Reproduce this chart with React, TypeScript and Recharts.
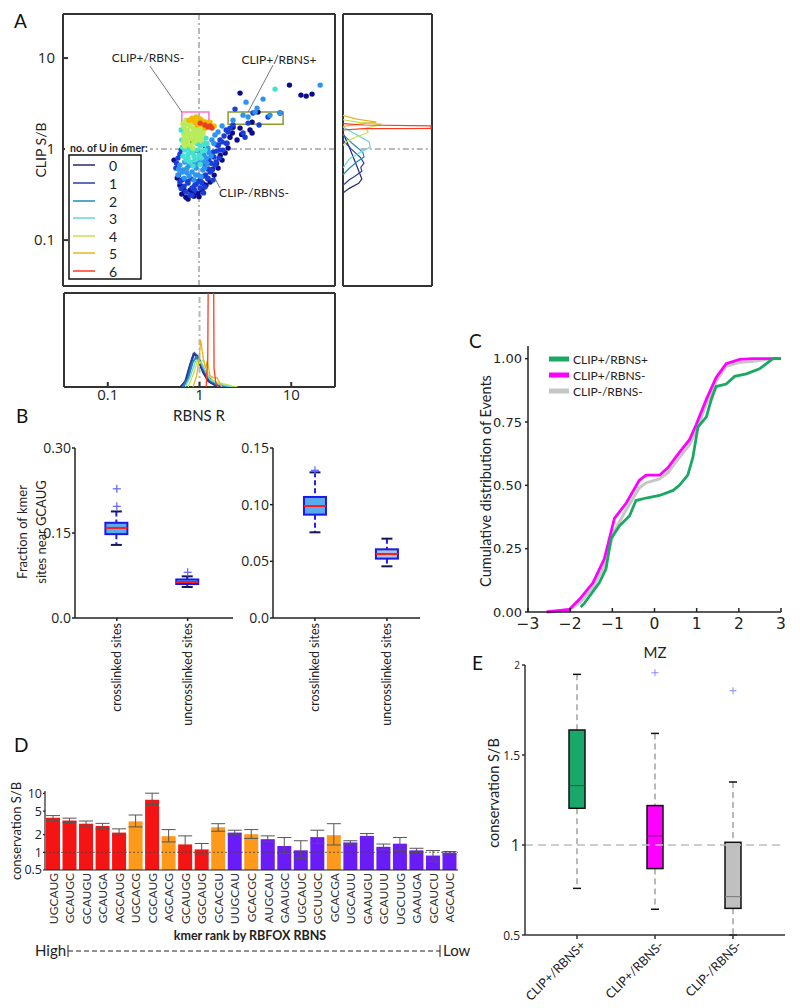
import React from 'react';
import {
  ScatterChart,
  Scatter,
  ComposedChart,
  LineChart,
  Line,
  BarChart,
  Bar,
  Cell,
  ErrorBar,
  XAxis,
  YAxis,
  ReferenceLine,
  ReferenceArea,
} from 'recharts';

const FONT = 'Lato, "Open Sans", sans-serif';
const TICK_FONT = '"Open Sans", sans-serif';
const MPL_FONT = '"DejaVu Sans", sans-serif';
const INK = '#222';

// ---------- Panel A: RBNS R vs CLIP S/B, coloured by number of U in the 6mer ----------
const uCounts = ['0', '1', '2', '3', '4', '5', '6'];
const uLineColors = ['#2a2a6e', '#2a3ea6', '#1f8ab8', '#66d9d4', '#c4e24e', '#e6b422', '#ff3a1e'];
const uDotColors = ['#0b0b8c', '#1a3ed8', '#2e95ee', '#46e0d2', '#b8ec5a', '#f5b800', '#e8401c'];

// [RBNS R, CLIP S/B]
const dotsU0: [number, number][] = [
  [9.6, 5.05], [12.8, 3.92], [14.6, 3.82], [16.9, 4.02], [2.79, 4.12], [4.37, 2.55], [7.6, 2.49],
  [3.77, 1.98], [3.58, 1.62], [2.79, 1.7], [3.77, 1.5], [2.34, 1.74], [2.17, 1.35], [2.59, 1.26],
  [2.3, 1.5], [2.9, 1.45], [0.65, 0.32], [0.72, 0.296], [0.8, 0.354], [0.88, 0.304], [0.975, 0.328],
  [1.08, 0.354], [1.19, 0.4], [1.32, 0.434], [1.46, 0.518], [1.61, 0.618], [1.78, 0.757], [1.92, 0.904],
  [2.07, 1.025], [0.58, 0.48], [0.535, 0.757], [0.76, 0.282], [0.69, 0.354], [0.62, 0.4], [0.85, 0.33],
  [1.0, 0.3], [1.1, 0.42], [1.25, 0.47], [1.4, 0.6], [1.55, 0.7], [1.7, 0.85],
];
const dotsU1: [number, number][] = [
  [1.16, 0.667], [1.28, 0.757], [1.42, 0.927], [1.57, 1.11], [1.69, 1.26], [1.87, 1.39], [2.07, 1.54],
  [1.32, 0.559], [1.49, 0.667], [1.65, 0.796], [1.82, 0.975], [1.97, 1.16], [0.62, 0.434], [0.69, 0.392],
  [0.76, 0.423], [0.84, 0.373], [0.93, 0.413], [1.03, 0.456], [1.13, 0.505], [1.25, 0.48], [1.38, 0.588],
  [1.53, 0.72], [0.72, 0.337], [0.8, 0.312], [0.9, 0.354], [1.03, 0.373], [0.59, 0.796], [0.56, 0.618],
  [0.64, 0.975], [2.17, 1.7], [2.34, 1.84], [1.97, 1.62], [1.69, 0.975], [1.42, 0.456], [1.16, 0.383],
  [0.6, 0.52], [0.66, 0.46], [0.75, 0.44], [0.82, 0.47], [0.9, 0.4], [0.97, 0.44], [1.07, 0.43],
  [1.18, 0.52], [1.26, 0.6], [1.35, 0.7], [1.45, 0.82], [1.55, 0.95], [1.62, 1.1], [1.78, 1.2],
  [0.57, 0.7], [0.62, 0.88], [0.64, 0.37], [0.84, 0.31], [1.12, 0.33],
  [2.46, 2.75], [3.86, 2.49], [5.62, 2.25], [3.41, 1.93], [4.49, 1.84], [3.01, 1.5], [3.16, 1.35], [2.02, 1.16],
];
const dotsU2: [number, number][] = [
  [0.62, 0.667], [0.67, 0.588], [0.74, 0.618], [0.84, 0.559], [0.93, 0.618], [1.05, 0.757], [1.13, 0.86],
  [1.25, 1.025], [1.38, 1.26], [1.49, 1.43], [0.59, 0.518], [0.69, 0.48], [0.78, 0.505], [0.88, 0.456],
  [0.975, 0.518], [1.1, 0.588], [1.22, 0.7], [1.35, 0.84], [1.61, 1.54], [1.78, 1.79],
  [0.7, 0.72], [0.78, 0.66], [0.86, 0.7], [0.95, 0.7], [1.1, 0.72], [1.2, 0.8], [0.66, 0.56], [0.74, 0.55],
  [0.92, 0.52], [1.05, 0.5], [1.15, 0.62], [1.28, 0.92], [1.45, 1.15], [0.6, 0.6],
  [3.24, 3.28], [4.96, 3.54], [4.06, 2.55], [3.01, 2.36], [7.6, 2.49], [20.7, 5.05], [3.41, 2.25],
  [2.34, 2.08], [4.27, 2.82], [5.9, 2.36],
];
const dotsU3: [number, number][] = [
  [0.65, 1.26], [0.7, 0.975], [0.76, 0.88], [0.82, 0.93], [0.88, 0.84], [0.95, 0.975], [1.03, 1.08],
  [0.67, 0.84], [0.72, 0.76], [0.8, 0.72], [0.9, 0.76], [1.0, 0.86], [1.1, 1.22], [1.19, 1.32],
  [0.64, 1.62], [0.69, 1.46], [0.76, 1.025], [0.86, 0.65], [1.03, 0.68], [1.16, 0.975],
  [0.76, 0.8], [0.86, 0.92], [0.95, 1.15], [1.08, 0.95], [1.13, 1.12], [0.7, 1.15], [0.66, 1.05],
  [0.8, 0.95], [0.92, 0.78], [1.05, 0.8], [1.22, 1.15], [6.7, 4.56],
];
const dotsU4: [number, number][] = [
  [0.72, 2.08], [0.76, 1.88], [0.69, 1.74], [0.8, 1.79], [0.86, 1.7], [0.93, 1.62], [1.0, 1.7],
  [0.72, 1.54], [0.78, 1.43], [0.84, 1.5], [0.9, 1.39], [0.975, 1.46], [1.05, 1.58], [0.69, 1.32],
  [0.74, 1.22], [0.82, 1.29], [0.88, 1.19], [0.95, 1.26], [1.03, 1.35], [1.1, 1.46], [0.8, 1.11],
  [0.7, 1.08], [0.86, 1.025], [0.67, 1.88], [0.95, 1.98], [1.08, 1.74],
  [0.82, 1.95], [0.75, 1.6], [0.9, 1.55], [1.05, 1.85], [1.12, 1.6], [0.7, 1.45], [0.78, 1.3],
  [0.93, 1.3], [1.06, 1.25], [0.68, 1.2],
];
const dotsU5: [number, number][] = [
  [0.84, 2.19], [0.93, 2.25], [1.03, 2.14], [1.1, 2.03], [1.19, 1.98], [1.0, 1.98], [0.88, 2.03],
  [1.08, 1.88], [1.25, 1.88], [0.95, 1.84], [1.32, 1.98], [0.78, 2.08], [1.46, 1.79], [1.16, 1.7],
];
const dotsU6: [number, number][] = [
  [1.25, 1.75], [1.32, 1.79], [1.16, 1.84], [1.38, 1.7], [1.03, 1.93],
];
const dotGroups = [dotsU0, dotsU1, dotsU2, dotsU3, dotsU4, dotsU5, dotsU6];

// right marginal: [density, CLIP S/B]
const rightU0: [number, number][] = [[0, 1.5], [0.6, 1.05], [1.3, 0.66], [1.8, 0.47], [1.5, 0.42], [0.6, 0.37], [0, 0.33]];
const rightU1: [number, number][] = [[0, 1.25], [0.8, 1.0], [1.7, 0.8], [2.0, 0.7], [1.7, 0.63], [1.8, 0.57], [1.1, 0.5], [0.6, 0.46], [0, 0.4]];
const rightU2: [number, number][] = [[0, 1.45], [0.9, 1.15], [1.9, 0.92], [2.0, 0.82], [1.3, 0.72], [0.5, 0.6], [0, 0.52]];
const rightU3: [number, number][] = [[0, 1.75], [1.0, 1.5], [2.5, 1.2], [2.6, 1.05], [1.5, 0.9], [0.6, 0.78], [0, 0.62]];
const rightU4: [number, number][] = [[0, 2.1], [1.5, 1.97], [3.7, 1.88], [2.2, 1.7], [2.4, 1.52], [1.2, 1.35], [0.4, 1.22], [0, 1.1]];
const rightU5: [number, number][] = [[0, 2.35], [1.2, 2.15], [3.2, 1.98], [1.2, 1.86], [0, 1.78]];
const rightU6: [number, number][] = [[0, 1.9], [2, 1.84], [8.4, 1.8], [8.4, 1.69], [2, 1.68], [0, 1.62]];
const rightGroups = [rightU0, rightU1, rightU2, rightU3, rightU4, rightU5, rightU6];

// bottom marginal: [RBNS R, density]
const bottomU0: [number, number][] = [[0.62, 0], [0.7, 0.06], [0.78, 0.22], [0.86, 0.35], [0.92, 0.33], [1.0, 0.25], [1.1, 0.15], [1.25, 0.06], [1.5, 0.015], [2.0, 0]];
const bottomU1: [number, number][] = [[0.64, 0], [0.72, 0.08], [0.8, 0.25], [0.88, 0.36], [0.95, 0.33], [1.03, 0.24], [1.14, 0.14], [1.3, 0.05], [1.6, 0.01], [2.1, 0]];
const bottomU2: [number, number][] = [[0.66, 0], [0.75, 0.09], [0.84, 0.26], [0.92, 0.32], [1.0, 0.29], [1.1, 0.2], [1.25, 0.1], [1.5, 0.03], [2.2, 0]];
const bottomU3: [number, number][] = [[0.7, 0], [0.8, 0.12], [0.9, 0.27], [0.97, 0.29], [1.05, 0.25], [1.15, 0.17], [1.3, 0.08], [1.6, 0.03], [2.3, 0]];
const bottomU4: [number, number][] = [[0.75, 0], [0.86, 0.14], [0.95, 0.28], [1.0, 0.25], [1.1, 0.29], [1.2, 0.17], [1.4, 0.07], [1.7, 0.04], [2.3, 0.01], [2.6, 0]];
const bottomU5: [number, number][] = [[0.85, 0], [0.93, 0.12], [0.99, 0.3], [1.03, 0.5], [1.1, 0.3], [1.16, 0.2], [1.22, 0.28], [1.3, 0.12], [1.42, 0.1], [1.55, 0.1], [1.65, 0.05], [1.75, 0]];
const bottomU6: [number, number][] = [[1.18, 0], [1.23, 0.3], [1.25, 1.5], [1.42, 1.5], [1.44, 0.2], [1.5, 0.05], [1.6, 0]];
const bottomGroups = [bottomU0, bottomU1, bottomU2, bottomU3, bottomU4, bottomU5, bottomU6];

// ---------- Panel B: fraction of kmer sites near GCAUG ----------
const bLabels = ['crosslinked sites', 'uncrosslinked sites'];
const bLeftLowWhisker = [0.129, 0.0547];
const bLeftQ1 = [0.148, 0.06];
const bLeftMedian = [0.159, 0.0635];
const bLeftQ3 = [0.168, 0.068];
const bLeftHighWhisker = [0.188, 0.0735];
const bLeftFliers: [number, number][] = [[1, 0.197], [1, 0.228], [2, 0.0806]];

const bRightLowWhisker = [0.0756, 0.0456];
const bRightQ1 = [0.0912, 0.0524];
const bRightMedian = [0.0988, 0.0565];
const bRightQ3 = [0.1068, 0.0606];
const bRightHighWhisker = [0.1285, 0.07];
const bRightFliers: [number, number][] = [[1, 0.1303]];

// ---------- Panel C: cumulative distribution of MZ ----------
const cSeries = ['CLIP+/RBNS+', 'CLIP+/RBNS-', 'CLIP-/RBNS-'];
const cGreen: [number, number][] = [
  [-1.75, 0.02], [-1.66, 0.035], [-1.31, 0.115], [-1.15, 0.17], [-1.03, 0.29], [-0.83, 0.34], [-0.59, 0.38],
  [-0.44, 0.44], [-0.2, 0.45], [0.12, 0.46], [0.44, 0.48], [0.59, 0.5], [0.79, 0.54], [0.91, 0.61],
  [1.03, 0.73], [1.23, 0.77], [1.35, 0.84], [1.46, 0.89], [1.7, 0.9], [1.9, 0.93], [2.18, 0.94],
  [2.49, 0.96], [2.81, 1.0], [3.0, 1.0],
];
const cMagenta: [number, number][] = [
  [-2.56, 0], [-2.02, 0.01], [-1.78, 0.05], [-1.46, 0.115], [-1.19, 0.21], [-0.95, 0.37], [-0.67, 0.43],
  [-0.36, 0.52], [-0.2, 0.54], [0.12, 0.54], [0.32, 0.57], [0.59, 0.63], [0.83, 0.68], [0.99, 0.74],
  [1.23, 0.84], [1.46, 0.925], [1.7, 0.98], [2.02, 0.997], [2.34, 1.0], [3.0, 1.0],
];
const cGray: [number, number][] = [
  [-2.5, 0], [-2.0, 0.01], [-1.75, 0.04], [-1.45, 0.1], [-1.2, 0.18], [-0.95, 0.32], [-0.65, 0.41],
  [-0.36, 0.49], [-0.2, 0.51], [0.12, 0.525], [0.32, 0.55], [0.59, 0.61], [0.83, 0.66], [1.0, 0.72],
  [1.23, 0.82], [1.46, 0.91], [1.7, 0.97], [2.0, 0.985], [2.34, 0.99], [2.8, 1.0], [3.0, 1.0],
];

// ---------- Panel D: conservation of kmers ranked by RBNS ----------
const dKmers = [
  'UGCAUG', 'GCAUGC', 'GCAUGU', 'GCAUGA', 'AGCAUG', 'UGCACG', 'CGCAUG', 'AGCACG', 'GCAUGG', 'GGCAUG',
  'GCACGU', 'UUGCAU', 'GCACGC', 'AUGCAU', 'GAAUGC', 'UGCAUC', 'GCUUGC', 'GCACGA', 'UGCAUU', 'GAAUGU',
  'GCAUUU', 'UGCUUG', 'GAAUGA', 'GCAUCU', 'AGCAUC',
];
const dValues = [3.86, 3.48, 3.06, 2.8, 2.16, 3.35, 7.83, 1.88, 1.36, 1.12, 2.66, 2.16, 2.03, 1.67, 1.28, 1.08, 1.81, 1.95, 1.47, 1.9, 1.24, 1.4, 1.08, 0.88, 0.99];
const dLow = [3.5, 3.2, 2.8, 2.5, 1.95, 2.7, 6.5, 1.5, 1.03, 0.94, 2.28, 2.03, 1.72, 1.51, 0.96, 0.79, 1.41, 1.33, 1.38, 1.78, 1.12, 1.09, 1.0, 0.7, 0.94];
const dHigh = [4.2, 3.8, 3.4, 3.1, 2.5, 4.3, 10.1, 2.43, 1.9, 1.41, 3.06, 2.37, 2.43, 1.9, 1.78, 1.57, 2.37, 3.06, 1.57, 2.08, 1.38, 1.78, 1.17, 1.07, 1.03];
const dGroup = ['r', 'r', 'r', 'r', 'r', 'o', 'r', 'o', 'r', 'r', 'o', 'p', 'o', 'p', 'p', 'p', 'p', 'o', 'p', 'p', 'p', 'p', 'p', 'p', 'p'];
const dColors: Record<string, string> = { r: '#f41414', o: '#fd9a1c', p: '#6a1cf6' };

// ---------- Panel E: conservation S/B per class ----------
const eLabels = ['CLIP+/RBNS+', 'CLIP+/RBNS-', 'CLIP-/RBNS-'];
const eLowWhisker = [0.759, 0.643, 0.5];
const eQ1 = [1.204, 0.869, 0.648];
const eMedian = [1.33, 1.05, 0.713];
const eQ3 = [1.639, 1.219, 1.015];
const eHighWhisker = [1.948, 1.62, 1.35];
const eFliers: [number, number][] = [[2, 1.957], [3, 1.857]];
const eFills = ['#1aa76a', '#ff00ff', '#c0c0c0'];
const eMedianColors = ['#11603e', '#8a008a', '#777'];

// ---------- helpers ----------
const X_DOM: [number, number] = [0.0333, 30];
const Y_DOM: [number, number] = [0.0313, 30.5];
const logFmt = (v: number) => String(v);
const toXY = (pts: [number, number][]) => pts.map(([x, y]) => ({ x, y }));
const noDot = () => <g />;
// an invisible series so that the frame axes (top / right) get drawn
const anchor = (x: number, y: number) => [{ x, y }];

const boxRows = (lo: number[], q1: number[], med: number[], q3: number[], hi: number[]) =>
  lo.map((_, i) => ({ pos: i + 1, wlo: lo[i], q1: q1[i], med: med[i], q3: q3[i], whi: hi[i], idx: i }));

type BoxStyle = {
  fill: (i: number) => string;
  edge: string;
  edgeW: number;
  median: (i: number) => string;
  medW: number;
  whisker: string;
  whiskerW: number;
  dash: string;
  cap: number;
  capColor: string;
  capW: number;
};

const makeBoxShape = (st: BoxStyle) => (props: any) => {
  const { x, y, width, height, payload } = props;
  const { wlo, q1, med, q3, whi, idx } = payload;
  // linear axis: position inside the whisker range given by the library
  const py = (v: number) => y + (height * (whi - v)) / (whi - wlo);
  const cx = x + width / 2;
  const c = st.cap / 2;
  return (
    <g>
      <line x1={cx} x2={cx} y1={py(whi)} y2={py(q3)} stroke={st.whisker} strokeWidth={st.whiskerW} strokeDasharray={st.dash} />
      <line x1={cx} x2={cx} y1={py(q1)} y2={py(wlo)} stroke={st.whisker} strokeWidth={st.whiskerW} strokeDasharray={st.dash} />
      <line x1={cx - c} x2={cx + c} y1={py(whi)} y2={py(whi)} stroke={st.capColor} strokeWidth={st.capW} />
      <line x1={cx - c} x2={cx + c} y1={py(wlo)} y2={py(wlo)} stroke={st.capColor} strokeWidth={st.capW} />
      <rect x={x} y={py(q3)} width={width} height={py(q1) - py(q3)} fill={st.fill(idx)} stroke={st.edge} strokeWidth={st.edgeW} />
      <line x1={x} x2={x + width} y1={py(med)} y2={py(med)} stroke={st.median(idx)} strokeWidth={st.medW} />
    </g>
  );
};

const plusShape = (color: string, s: number, w: number) => (p: any) => (
  <g>
    <line x1={p.cx - s} x2={p.cx + s} y1={p.cy} y2={p.cy} stroke={color} strokeWidth={w} />
    <line x1={p.cx} x2={p.cx} y1={p.cy - s} y2={p.cy + s} stroke={color} strokeWidth={w} />
  </g>
);

// ---------- Panel A ----------
function PanelAMain() {
  const dash = { stroke: '#b8b8b8', strokeWidth: 2, strokeDasharray: '6 3 2 3' };
  return (
    <ScatterChart width={345} height={300} margin={{ top: 13, right: 9, bottom: 0, left: 0 }}>
      <XAxis xAxisId="b" type="number" dataKey="x" scale="log" domain={X_DOM} allowDataOverflow ticks={[0.1, 1, 10]}
        tick={false} tickSize={-5} height={14} stroke="#333" strokeWidth={2} />
      <XAxis xAxisId="t" orientation="top" type="number" dataKey="x" scale="log" domain={X_DOM} allowDataOverflow
        ticks={[0.1, 1, 10]} tick={false} tickSize={-5} height={1} stroke="#333" strokeWidth={2} />
      <YAxis yAxisId="l" type="number" dataKey="y" scale="log" domain={Y_DOM} allowDataOverflow ticks={[0.1, 1, 10]}
        tickFormatter={logFmt} tickSize={-5} tickMargin={13} width={63} stroke="#333" strokeWidth={2}
        tick={{ fontFamily: TICK_FONT, fontSize: 15, fill: INK }} />
      <YAxis yAxisId="r" orientation="right" type="number" dataKey="y" scale="log" domain={Y_DOM} allowDataOverflow
        ticks={[0.1, 1, 10]} tick={false} tickSize={-5} width={1} stroke="#333" strokeWidth={2} />
      <Scatter xAxisId="t" yAxisId="r" data={anchor(1, 1)} shape={noDot} isAnimationActive={false} />
      <ReferenceLine xAxisId="b" yAxisId="l" x={1} {...dash} />
      <ReferenceLine xAxisId="b" yAxisId="l" y={1} {...dash} />
      {dotGroups.map((g, i) => (
        <Scatter key={i} xAxisId="b" yAxisId="l" data={toXY(g)} isAnimationActive={false}
          shape={(p: any) => <circle cx={p.cx} cy={p.cy} r={2.7} fill={uDotColors[i]} />} />
      ))}
      <ReferenceArea xAxisId="b" yAxisId="l" x1={0.65} x2={1.28} y1={1.88} y2={2.55} fill="none" stroke="#ff70c8" strokeWidth={1.5} />
      <ReferenceArea xAxisId="b" yAxisId="l" x1={2.07} x2={8.2} y1={1.88} y2={2.55} fill="none" stroke="#8c9a2e" strokeWidth={1.5} />
      <ReferenceArea xAxisId="b" yAxisId="l" x1={0.82} x2={1.13} y1={0.93} y2={1.26} fill="none" stroke="#000" strokeWidth={1.8} />
      <ReferenceLine xAxisId="b" yAxisId="l" segment={[{ x: 0.293, y: 8.17 }, { x: 0.653, y: 2.55 }]} stroke="#555" strokeWidth={0.8} />
      <ReferenceLine xAxisId="b" yAxisId="l" segment={[{ x: 6.37, y: 8.38 }, { x: 3.41, y: 2.55 }]} stroke="#555" strokeWidth={0.8} />
      <ReferenceLine xAxisId="b" yAxisId="l" segment={[{ x: 1.08, y: 0.904 }, { x: 1.69, y: 0.373 }]} stroke="#555" strokeWidth={0.8} />
    </ScatterChart>
  );
}

function PanelARight() {
  const densTicks = [1, 2, 3, 4, 5, 6, 7, 8];
  return (
    <ScatterChart width={93} height={300} margin={{ top: 13, right: 1, bottom: 13, left: 1 }}>
      <XAxis xAxisId="b" type="number" dataKey="x" domain={[0, 8.5]} allowDataOverflow ticks={densTicks}
        tick={false} tickSize={-4} height={1} stroke="#333" strokeWidth={2} />
      <XAxis xAxisId="t" orientation="top" type="number" dataKey="x" domain={[0, 8.5]} allowDataOverflow ticks={densTicks}
        tick={false} tickSize={-4} height={1} stroke="#333" strokeWidth={2} />
      <YAxis yAxisId="l" type="number" dataKey="y" scale="log" domain={Y_DOM} allowDataOverflow ticks={[0.1, 1, 10]}
        tick={false} tickSize={-5} width={1} stroke="#333" strokeWidth={2} />
      <YAxis yAxisId="r" orientation="right" type="number" dataKey="y" scale="log" domain={Y_DOM} allowDataOverflow
        ticks={[0.1, 1, 10]} tick={false} tickLine={false} width={1} stroke="#333" strokeWidth={2} />
      <Scatter xAxisId="t" yAxisId="r" data={anchor(1, 1)} shape={noDot} isAnimationActive={false} />
      <ReferenceLine xAxisId="b" yAxisId="l" segment={[{ x: 1.7, y: 1 }, { x: 8.5, y: 1 }]}
        stroke="#b8b8b8" strokeWidth={2} strokeDasharray="6 3 2 3" />
      {rightGroups.map((g, i) => (
        <Scatter key={i} xAxisId="b" yAxisId="l" data={toXY(g)} isAnimationActive={false} shape={noDot}
          line={{ stroke: uLineColors[i], strokeWidth: 1.2 }} />
      ))}
    </ScatterChart>
  );
}

function PanelABottom() {
  return (
    <ScatterChart width={345} height={130} margin={{ top: 9, right: 9, bottom: 0, left: 0 }}>
      <XAxis xAxisId="b" type="number" dataKey="x" scale="log" domain={X_DOM} allowDataOverflow ticks={[0.1, 1, 10]}
        tickFormatter={logFmt} tickSize={-5} tickMargin={7} height={26} stroke="#333" strokeWidth={2}
        tick={{ fontFamily: TICK_FONT, fontSize: 15, fill: INK }} />
      <XAxis xAxisId="t" orientation="top" type="number" dataKey="x" scale="log" domain={X_DOM} allowDataOverflow
        ticks={[0.1, 1, 10]} tick={false} tickSize={-5} height={1} stroke="#333" strokeWidth={2} />
      <YAxis yAxisId="l" type="number" dataKey="y" domain={[0, 1]} allowDataOverflow tick={false} tickLine={false}
        width={64} stroke="#333" strokeWidth={2} />
      <YAxis yAxisId="r" orientation="right" type="number" dataKey="y" domain={[0, 1]} allowDataOverflow tick={false}
        tickLine={false} width={1} stroke="#333" strokeWidth={2} />
      <Scatter xAxisId="t" yAxisId="r" data={anchor(1, 0.5)} shape={noDot} isAnimationActive={false} />
      <ReferenceLine xAxisId="b" yAxisId="l" x={1} stroke="#b8b8b8" strokeWidth={2} strokeDasharray="6 3 2 3" />
      {bottomGroups.map((g, i) => (
        <Scatter key={i} xAxisId="b" yAxisId="l" data={toXY(g)} isAnimationActive={false} shape={noDot}
          line={{ stroke: uLineColors[i], strokeWidth: i < 3 ? 2 : 1.3 }} />
      ))}
    </ScatterChart>
  );
}

// ---------- Panel B ----------
const bStyle = (fills: string[]): BoxStyle => ({
  fill: (i) => fills[i],
  edge: '#1a1ae6',
  edgeW: 2,
  median: () => '#ff1a1a',
  medW: 2,
  whisker: '#2020e0',
  whiskerW: 2,
  dash: '5 3',
  cap: 11,
  capColor: '#15155a',
  capW: 2,
});

const bRotTick = (p: any) => (
  <text x={p.x} y={p.y} transform={`rotate(-90 ${p.x} ${p.y})`} textAnchor="end" dominantBaseline="central"
    fontFamily={FONT} fontSize={12.5} fill={INK}>
    {bLabels[p.payload.value - 1]}
  </text>
);

function BoxPanelB(props: {
  width: number; yMax: number; yTicks: number[]; xDom: [number, number]; yWidth: number; right: number;
  rows: any[]; fliers: [number, number][]; fills: string[];
}) {
  const fmt = (v: number) => (v === 0 ? '0.0' : v.toFixed(2));
  return (
    <ComposedChart width={props.width} height={300} data={props.rows} margin={{ top: 18, right: props.right, bottom: 0, left: 0 }}>
      <XAxis type="number" dataKey="pos" domain={props.xDom} ticks={[1, 2]} tick={bRotTick} tickSize={3} height={112}
        stroke="#222" strokeWidth={1.5} />
      <YAxis type="number" domain={[0, props.yMax]} ticks={props.yTicks} tickFormatter={fmt} width={props.yWidth}
        tickSize={3} tickMargin={1} stroke="#222" strokeWidth={1.5} interval={0}
        tick={{ fontFamily: TICK_FONT, fontSize: 14, fill: INK }} />
      <Bar dataKey={(d: any) => [d.wlo, d.whi]} barSize={22} isAnimationActive={false} shape={makeBoxShape(bStyle(props.fills))} />
      <Scatter data={props.fliers.map(([pos, v]) => ({ pos, v }))} dataKey="v" isAnimationActive={false}
        shape={plusShape('#6a6aff', 4, 1.3)} />
    </ComposedChart>
  );
}

// ---------- Panel C ----------
const cFmt = (v: number) => (v < 0 ? `\u2212${Math.abs(v)}` : String(v));

function PanelC() {
  return (
    <LineChart width={360} height={340} margin={{ top: 16, right: 19, bottom: 0, left: 0 }}>
      <XAxis type="number" dataKey="x" domain={[-3, 3]} ticks={[-3, -2, -1, 0, 1, 2, 3]} tickFormatter={cFmt}
        tickSize={-4} tickMargin={10} height={58} stroke="#222" strokeWidth={1.5} interval={0}
        tick={{ fontFamily: MPL_FONT, fontSize: 15.5, fill: INK }} />
      <YAxis type="number" domain={[0, 1.05]} ticks={[0, 0.25, 0.5, 0.75, 1]} tickFormatter={(v: number) => v.toFixed(2)}
        width={88} tickSize={3} tickMargin={3} stroke="#222" strokeWidth={1.5} interval={0}
        tick={{ fontFamily: MPL_FONT, fontSize: 13, fill: INK }} />
      <Line data={toXY(cGray)} dataKey="y" stroke="#c6c6c6" strokeWidth={3} dot={false} isAnimationActive={false} type="linear" />
      <Line data={toXY(cMagenta)} dataKey="y" stroke="#ff00ff" strokeWidth={2.8} dot={false} isAnimationActive={false} type="linear" />
      <Line data={toXY(cGreen)} dataKey="y" stroke="#1aa862" strokeWidth={2.8} dot={false} isAnimationActive={false} type="linear" />
    </LineChart>
  );
}

// ---------- Panel D ----------
const dRows = dKmers.map((k, i) => ({
  kmer: k,
  value: dValues[i],
  err: [dValues[i] - dLow[i], dHigh[i] - dValues[i]],
  color: dColors[dGroup[i]],
}));

const dRotTick = (p: any) => (
  <text x={p.x} y={p.y} transform={`rotate(-90 ${p.x} ${p.y})`} textAnchor="end" dominantBaseline="central"
    fontFamily={FONT} fontSize={12} fill="#333">
    {p.payload.value}
  </text>
);

function PanelD() {
  return (
    <BarChart width={470} height={170} data={dRows} margin={{ top: 31, right: 12, bottom: 0, left: 0 }}>
      <XAxis dataKey="kmer" interval={0} tick={dRotTick} tickSize={0} tickMargin={3} height={60} stroke="#222" strokeWidth={1.2} />
      <YAxis type="number" scale="log" domain={[0.5, 11]} allowDataOverflow ticks={[0.5, 1, 2, 5, 10]} tickFormatter={logFmt}
        width={45} tickSize={2} tickMargin={1} stroke="#222" strokeWidth={1.2} interval={0}
        tick={{ fontFamily: TICK_FONT, fontSize: 12.5, fill: INK }} />
      <Bar dataKey="value" barSize={14} isAnimationActive={false}>
        {dRows.map((r, i) => (
          <Cell key={i} fill={r.color} />
        ))}
        <ErrorBar dataKey="err" width={7} stroke="#555" strokeWidth={1} direction="y" />
      </Bar>
      <ReferenceLine y={1} stroke="#444" strokeWidth={0.8} strokeDasharray="2 2" />
    </BarChart>
  );
}

// ---------- Panel E ----------
const eStyle: BoxStyle = {
  fill: (i) => eFills[i],
  edge: '#111',
  edgeW: 1.5,
  median: (i) => eMedianColors[i],
  medW: 1,
  whisker: '#8a8a8a',
  whiskerW: 1.2,
  dash: '6 4',
  cap: 8,
  capColor: '#111',
  capW: 1.5,
};

const eTickSizes: Record<string, number> = { '0.5': 12, '1': 16, '1.5': 12, '2': 10 };
const eYTick = (p: any) => (
  <text x={p.x} y={p.y} textAnchor="end" dominantBaseline="central" fontFamily={TICK_FONT}
    fontSize={eTickSizes[String(p.payload.value)] || 12} fill={INK}>
    {p.payload.value}
  </text>
);
const eRotTick = (p: any) => (
  <text x={p.x + 6} y={p.y + 2} transform={`rotate(-45 ${p.x + 6} ${p.y + 2})`} textAnchor="end" dominantBaseline="central"
    fontFamily={FONT} fontSize={12.5} fill={INK}>
    {eLabels[p.payload.value - 1]}
  </text>
);

function PanelE() {
  const rows = boxRows(eLowWhisker, eQ1, eMedian, eQ3, eHighWhisker);
  return (
    <ComposedChart width={340} height={368} data={rows} margin={{ top: 25, right: 15, bottom: 0, left: 0 }}>
      <XAxis type="number" dataKey="pos" domain={[1 / 3, 11 / 3]} ticks={[1, 2, 3]} tick={eRotTick} tickSize={4}
        height={73} stroke="#333" strokeWidth={1.5} />
      <YAxis type="number" domain={[0.5, 2]} ticks={[0.5, 1, 1.5, 2]} tick={eYTick} width={65} tickSize={3}
        tickMargin={2} stroke="#333" strokeWidth={1.5} interval={0} />
      <ReferenceLine y={1} stroke="#bdbdbd" strokeWidth={1.5} strokeDasharray="8 5" />
      <Bar dataKey={(d: any) => [d.wlo, d.whi]} barSize={16} isAnimationActive={false} shape={makeBoxShape(eStyle)} />
      <Scatter data={eFliers.map(([pos, v]) => ({ pos, v }))} dataKey="v" isAnimationActive={false}
        shape={plusShape('#8a8aff', 3.5, 1)} />
    </ComposedChart>
  );
}

// ---------- text overlay ----------
function Overlay() {
  const rot = (x: number, y: number, text: string, size: number, extra: any = {}) => (
    <text transform={`translate(${x},${y}) rotate(-90)`} textAnchor="middle" dominantBaseline="central"
      fontFamily={FONT} fontSize={size} fill={INK} {...extra}>
      {text}
    </text>
  );
  const letter = (x: number, y: number, t: string) => (
    <text x={x} y={y} fontFamily={FONT} fontSize={19} fill="#111">{t}</text>
  );
  const legendRows = [165, 183, 201, 218, 236, 253, 271];
  return (
    <svg width={800} height={1008} style={{ position: 'absolute', left: 0, top: 0, pointerEvents: 'none' }}>
      {letter(14, 28, 'A')}
      {letter(16, 423, 'B')}
      {letter(469, 348, 'C')}
      {letter(14, 752, 'D')}
      {letter(472, 670, 'E')}

      {rot(40, 150, 'CLIP S/B', 14)}
      <text x={148} y={62} textAnchor="middle" fontFamily={FONT} fontSize={12} fill={INK}>CLIP+/RBNS-</text>
      <text x={279} y={64} textAnchor="middle" fontFamily={FONT} fontSize={12} fill={INK}>CLIP+/RBNS+</text>
      <text x={254} y={197} textAnchor="middle" fontFamily={FONT} fontSize={12} fill={INK}>CLIP-/RBNS-</text>

      <rect x={65} y={142} width={85} height={12} fill="#fff" />
      <text x={70} y={152} fontFamily={FONT} fontSize={10.5} fontWeight="bold" fill={INK}>no. of U in 6mer:</text>
      <rect x={69} y={155} width={72} height={124} fill="#fff" stroke="#111" strokeWidth={1.5} />
      {uCounts.map((u, i) => (
        <g key={u}>
          <line x1={73} x2={95} y1={legendRows[i]} y2={legendRows[i]} stroke={uLineColors[i]} strokeWidth={1.5} />
          <text x={109} y={legendRows[i]} dominantBaseline="central" fontFamily={FONT} fontSize={14} fill={INK}>{u}</text>
        </g>
      ))}
      <text x={199} y={421} textAnchor="middle" fontFamily={FONT} fontSize={15} fill={INK}>RBNS R</text>

      {rot(22, 532, 'Fraction of kmer', 13)}
      {rot(41, 532, 'sites near GCAUG', 13)}

      {rot(485, 481, 'Cumulative distribution of Events', 14.5)}
      <text x={655} y={658} textAnchor="middle" fontFamily={FONT} fontSize={15} fill={INK}>MZ</text>
      {cSeries.map((s, i) => {
        const y = [359, 375, 391][i];
        const c = ['#1aa862', '#ff00ff', '#c6c6c6'][i];
        return (
          <g key={s}>
            <line x1={549} x2={569} y1={y} y2={y} stroke={c} strokeWidth={5} />
            <text x={573} y={y} dominantBaseline="central" fontFamily={FONT} fontSize={12} fill={INK}>{s}</text>
          </g>
        );
      })}

      {rot(16, 831, 'conservation S/B', 13)}
      <text x={250} y={940} textAnchor="middle" fontFamily={FONT} fontSize={12.5} fontWeight="bold" fill={INK}>kmer rank by RBFOX RBNS</text>
      <text x={35} y={956} fontFamily={FONT} fontSize={15} fill={INK}>High</text>
      <line x1={68} x2={440} y1={951} y2={951} stroke={INK} strokeWidth={1} strokeDasharray="5 3" />
      <line x1={68} x2={68} y1={945} y2={957} stroke={INK} strokeWidth={1} />
      <line x1={440} x2={440} y1={945} y2={957} stroke={INK} strokeWidth={1} />
      <text x={443} y={956} fontFamily={FONT} fontSize={15} fill={INK}>Low</text>

      {rot(493, 793, 'conservation S/B', 14.5)}
    </svg>
  );
}

export default function App() {
  const bLeftRows = boxRows(bLeftLowWhisker, bLeftQ1, bLeftMedian, bLeftQ3, bLeftHighWhisker);
  const bRightRows = boxRows(bRightLowWhisker, bRightQ1, bRightMedian, bRightQ3, bRightHighWhisker);
  const abs = (left: number, top: number): React.CSSProperties => ({ position: 'absolute', left, top });
  return (
    <div style={{ position: 'absolute', left: 0, top: 0, width: 800, height: 1008, background: '#fff', overflow: 'hidden' }}>
      <div style={abs(0, 0)}><PanelAMain /></div>
      <div style={abs(341, 0)}><PanelARight /></div>
      <div style={abs(0, 283)}><PanelABottom /></div>
      <div style={abs(0, 430)}>
        <BoxPanelB width={240} yMax={0.3} yTicks={[0, 0.15, 0.3]} xDom={[0.41, 2.64]} yWidth={75} right={7}
          rows={bLeftRows} fliers={bLeftFliers} fills={['#5aaaf0', '#5aaaf0']} />
      </div>
      <div style={abs(200, 430)}>
        <BoxPanelB width={230} yMax={0.15} yTicks={[0, 0.05, 0.1, 0.15]} xDom={[0.417, 2.46]} yWidth={73} right={10}
          rows={bRightRows} fliers={bRightFliers} fills={['#5aaaf0', '#a9c3dd']} />
      </div>
      <div style={abs(440, 330)}><PanelC /></div>
      <div style={abs(0, 760)}><PanelD /></div>
      <div style={abs(460, 640)}><PanelE /></div>
      <Overlay />
    </div>
  );
}
